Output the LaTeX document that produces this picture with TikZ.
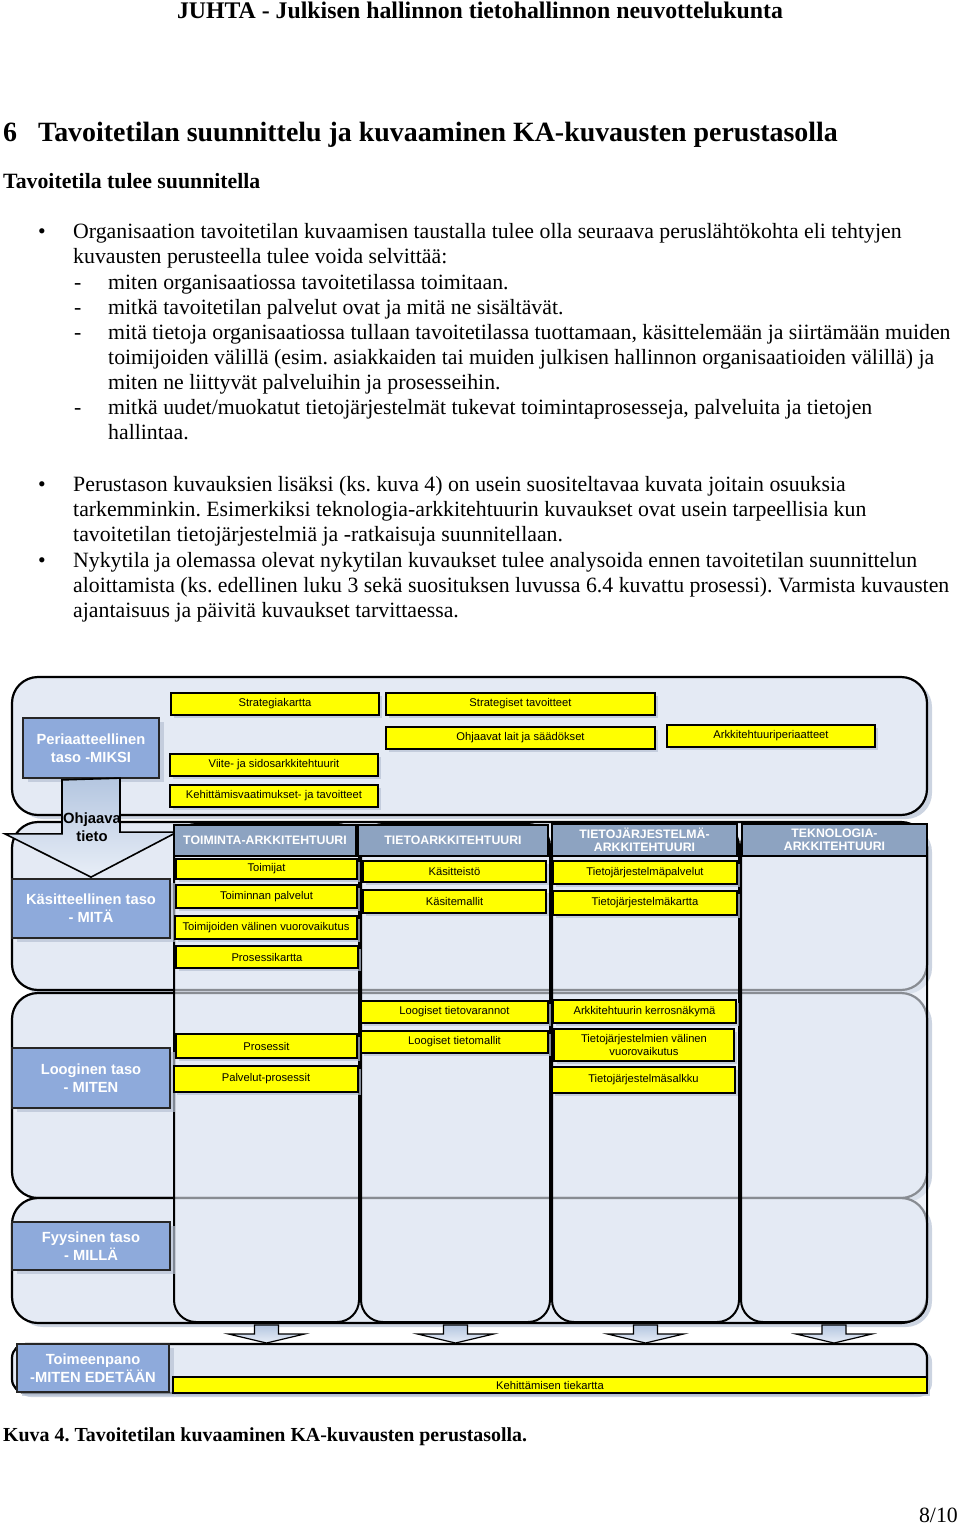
\documentclass[tikz,border=0pt]{standalone}
\usepackage{fontspec}
\setmainfont{Liberation Serif}
\newfontfamily\dgfont{Liberation Sans}
\usepackage{tikz}
\usetikzlibrary{calc,shadows}
\definecolor{BandFill}{HTML}{E4EAF4}
\definecolor{LevelBlue}{HTML}{8EAADB}
\definecolor{HeadBlue}{HTML}{8DA3C1}
\definecolor{NoteYellow}{HTML}{FFFF00}
\definecolor{ArrowTop}{HTML}{B4C6E0}
\definecolor{ArrowBottom}{HTML}{E8EEF7}
\definecolor{ShadowGray}{HTML}{B7C2D4}

\begin{document}
\frenchspacing
\begin{tikzpicture}[
    x=1pt, y=-1pt,
    body/.style={anchor=base west, inner sep=0pt, font=\fontsize{21.8}{25.2}\selectfont},
    bodybold/.style={body, font=\bfseries\fontsize{21.8}{25.2}\selectfont},
    soft/.style={drop shadow={shadow xshift=5pt, shadow yshift=-4pt, fill=ShadowGray, opacity=0.7}},
    band/.style={rectangle, rounded corners=26pt, draw=black, line width=2.2pt, fill=BandFill, inner sep=0pt, soft},
    colbox/.style={rectangle, rounded corners=22pt, draw=black, line width=2pt, fill=BandFill, fill opacity=0.6, inner sep=0pt},
    colhead/.style={rectangle, draw=black, line width=1.6pt, fill=HeadBlue, text=white, align=center, inner sep=0pt, font=\dgfont\bfseries\fontsize{12.3}{13}\selectfont},
    level/.style={rectangle, draw=black!85, line width=1.8pt, fill=LevelBlue, text=white, align=center, inner sep=0pt, soft, font=\dgfont\bfseries\fontsize{14.7}{18}\selectfont},
    ybox/.style={rectangle, draw=black, line width=1.6pt, fill=NoteYellow, align=center, inner sep=0pt, font=\dgfont\fontsize{11.2}{13}\selectfont, drop shadow={shadow xshift=3pt, shadow yshift=-3pt, fill=ShadowGray, opacity=0.7}},
    blockarrow/.style={draw=black, line width=1.6pt, line join=miter, top color=ArrowTop, bottom color=ArrowBottom}
]
\useasboundingbox (0,0) rectangle (960,1524);

% ylätunniste ja otsikot
\node[anchor=base, inner sep=0pt, font=\bfseries\fontsize{23.8}{26}\selectfont] (runhead) at (480,18) {JUHTA - Julkisen hallinnon tietohallinnon neuvottelukunta};
\node[anchor=base west, inner sep=0pt, font=\bfseries\fontsize{27.9}{32}\selectfont] (secnum) at (3,141) {6};
\node[anchor=base west, inner sep=0pt, font=\bfseries\fontsize{27.9}{32}\selectfont] (sectitle) at (38,141) {Tavoitetilan suunnittelu ja kuvaaminen KA-kuvausten perustasolla};
\node[bodybold] (subhead) at (3,188) {Tavoitetila tulee suunnitella};

% leipäteksti, rivi riviltä
\node[body] (dot1) at (38,238) {•};
\node[body] (p1a) at (73,238) {Organisaation tavoitetilan kuvaamisen taustalla tulee olla seuraava peruslähtökohta eli tehtyjen};
\node[body] (p1b) at (73,263) {kuvausten perusteella tulee voida selvittää:};
\node[body] (dash1) at (74,289) {-};
\node[body] (p1c) at (108,289) {miten organisaatiossa tavoitetilassa toimitaan.};
\node[body] (dash2) at (74,314) {-};
\node[body] (p1d) at (108,314) {mitkä tavoitetilan palvelut ovat ja mitä ne sisältävät.};
\node[body] (dash3) at (74,339) {-};
\node[body] (p1e) at (108,339) {mitä tietoja organisaatiossa tullaan tavoitetilassa tuottamaan, käsittelemään ja siirtämään muiden};
\node[body] (p1f) at (108,364) {toimijoiden välillä (esim. asiakkaiden tai muiden julkisen hallinnon organisaatioiden välillä) ja};
\node[body] (p1g) at (108,389) {miten ne liittyvät palveluihin ja prosesseihin.};
\node[body] (dash4) at (74,414) {-};
\node[body] (p1h) at (108,414) {mitkä uudet/muokatut tietojärjestelmät tukevat toimintaprosesseja, palveluita ja tietojen};
\node[body] (p1i) at (108,439) {hallintaa.};

\node[body] (dot2) at (38,491) {•};
\node[body] (p2a) at (73,491) {Perustason kuvauksien lisäksi (ks. kuva 4) on usein suositeltavaa kuvata joitain osuuksia};
\node[body] (p2b) at (73,516) {tarkemminkin. Esimerkiksi teknologia-arkkitehtuurin kuvaukset ovat usein tarpeellisia kun};
\node[body] (p2c) at (73,541) {tavoitetilan tietojärjestelmiä ja -ratkaisuja suunnitellaan.};
\node[body] (dot3) at (38,567) {•};
\node[body] (p3a) at (73,567) {Nykytila ja olemassa olevat nykytilan kuvaukset tulee analysoida ennen tavoitetilan suunnittelun};
\node[body] (p3b) at (73,592) {aloittamista (ks. edellinen luku 3 sekä suosituksen luvussa 6.4 kuvattu prosessi). Varmista kuvausten};
\node[body] (p3c) at (73,617) {ajantaisuus ja päivitä kuvaukset tarvittaessa.};

% tasot (vaakakaistat)
\node[band, minimum width=915, minimum height=138] (bandP) at (469.5,746) {};
\node[band, minimum width=915, minimum height=168] (bandK) at (469.5,906) {};
\node[band, minimum width=915, minimum height=205] (bandL) at (469.5,1095.5) {};
\node[band, minimum width=915, minimum height=125] (bandF) at (469.5,1260.5) {};
\node[band, rounded corners=14pt, minimum width=915, minimum height=49] (bandT) at (469.5,1368.5) {};

% arkkitehtuurisarakkeet
\node[colbox, minimum width=185, minimum height=498] (col1) at (266.5,1073) {};
\node[colbox, minimum width=189, minimum height=498] (col2) at (455.5,1073) {};
\node[colbox, minimum width=187, minimum height=498] (col3) at (645.5,1073) {};
\node[colbox, minimum width=186, minimum height=498] (col4) at (834,1073) {};

% tasojen nimet
\node[level, minimum width=136, minimum height=60] (miksi) at (91,748) {Periaatteellinen\\taso -MIKSI};
\node[level, minimum width=158, minimum height=59] (mita) at (91,908.5) {Käsitteellinen taso\\- MITÄ};
\node[level, minimum width=158, minimum height=60] (miten) at (91,1078) {Looginen taso\\- MITEN};
\node[level, minimum width=158, minimum height=48] (milla) at (91,1246) {Fyysinen taso\\- MILLÄ};
\node[level, minimum width=152, minimum height=48] (edetaan) at (93,1368) {Toimeenpano\\-MITEN EDETÄÄN};

% Ohjaava tieto -nuoli
\draw[blockarrow] ($(miksi.south)+(-29,1)$) -- ++(0,54) -- ++(-57,0) -- ($(mita.north)+(0,-1)$) -- ++(86,-45) -- ++(-57,0) -- ++(0,-54) -- cycle;
\node[align=center, inner sep=0pt, font=\dgfont\bfseries\fontsize{14.8}{18}\selectfont] (ohjaava) at (92,827) {Ohjaava\\tieto};

% sarakkeiden otsikot
\node[colhead, minimum width=182, minimum height=31] (hd1) at (265,840.5) {TOIMINTA-ARKKITEHTUURI};
\node[colhead, minimum width=190, minimum height=31] (hd2) at (453,840.5) {TIETOARKKITEHTUURI};
\node[colhead, minimum width=185, minimum height=32] (hd3) at (644.5,840) {TIETOJÄRJESTELMÄ-\\ARKKITEHTUURI};
\node[colhead, minimum width=185, minimum height=32] (hd4) at (834.5,840) {TEKNOLOGIA-\\ARKKITEHTUURI};

% periaatteellinen taso
\node[ybox, minimum width=208, minimum height=22] (strat) at (275,704) {Strategiakartta};
\node[ybox, minimum width=269, minimum height=22] (stratgoal) at (520.5,704) {Strategiset tavoitteet};
\node[ybox, minimum width=269, minimum height=22] (laws) at (520.5,738) {Ohjaavat lait ja säädökset};
\node[ybox, minimum width=208, minimum height=22] (princ) at (771,736) {Arkkitehtuuriperiaatteet};
\node[ybox, minimum width=208, minimum height=22] (refarch) at (274,765) {Viite- ja sidosarkkitehtuurit};
\node[ybox, minimum width=208, minimum height=22] (devreq) at (274,796) {Kehittämisvaatimukset- ja tavoitteet};

% toiminta-arkkitehtuuri
\node[ybox, minimum width=181, minimum height=20] (toimijat) at (266.5,869) {Toimijat};
\node[ybox, minimum width=181, minimum height=23] (palvelut) at (266.5,896.5) {Toiminnan palvelut};
\node[ybox, minimum width=182, minimum height=23] (vuoro) at (266,927.5) {Toimijoiden välinen vuorovaikutus};
\node[ybox, minimum width=182, minimum height=22] (proskartta) at (267,957) {Prosessikartta};
\node[ybox, minimum width=181, minimum height=24] (prosessit) at (266.5,1046) {Prosessit};
\node[ybox, minimum width=184, minimum height=26] (palvpros) at (266,1079) {Palvelut-prosessit};

% tietoarkkitehtuuri
\node[ybox, minimum width=183, minimum height=21] (kasitteisto) at (454.5,871.5) {Käsitteistö};
\node[ybox, minimum width=183, minimum height=23] (kasitemallit) at (454.5,901.5) {Käsitemallit};
\node[ybox, minimum width=187, minimum height=22] (tietovar) at (454.5,1012) {Loogiset tietovarannot};
\node[ybox, minimum width=187, minimum height=22] (tietomallit) at (454.5,1042) {Loogiset tietomallit};

% tietojärjestelmäarkkitehtuuri
\node[ybox, minimum width=184, minimum height=23] (tjpalv) at (645,872.5) {Tietojärjestelmäpalvelut};
\node[ybox, minimum width=184, minimum height=24] (tjkartta) at (645,903) {Tietojärjestelmäkartta};
\node[ybox, minimum width=183, minimum height=23] (kerros) at (644.5,1011.5) {Arkkitehtuurin kerrosnäkymä};
\node[ybox, minimum width=180, minimum height=32] (tjvuoro) at (644,1045) {Tietojärjestelmien välinen\\vuorovaikutus};
\node[ybox, minimum width=183, minimum height=26] (salkku) at (643.5,1080) {Tietojärjestelmäsalkku};

% toimeenpano
\node[ybox, minimum width=754, minimum height=16] (tiekartta) at (550,1385) {Kehittämisen tiekartta};

% nuolet sarakkeista tiekarttaan
\foreach \c in {col1,col2,col3,col4}
  \draw[blockarrow, line width=1.2pt] ($(\c.south)+(-12,2)$) -- ++(0,9) -- ++(-26,0) -- ($(\c.south)+(0,20)$) -- ++(38,-9) -- ++(-26,0) -- ++(0,-9) -- cycle;

% kuvateksti ja sivunumero
\node[anchor=base west, inner sep=0pt, font=\bfseries\fontsize{19.9}{24}\selectfont] (caption) at (3,1441) {Kuva 4. Tavoitetilan kuvaaminen KA-kuvausten perustasolla.};
\node[anchor=base east, inner sep=0pt, font=\fontsize{21.8}{25.2}\selectfont] (pagenum) at (958,1522) {8/10};
\end{tikzpicture}
\end{document}
